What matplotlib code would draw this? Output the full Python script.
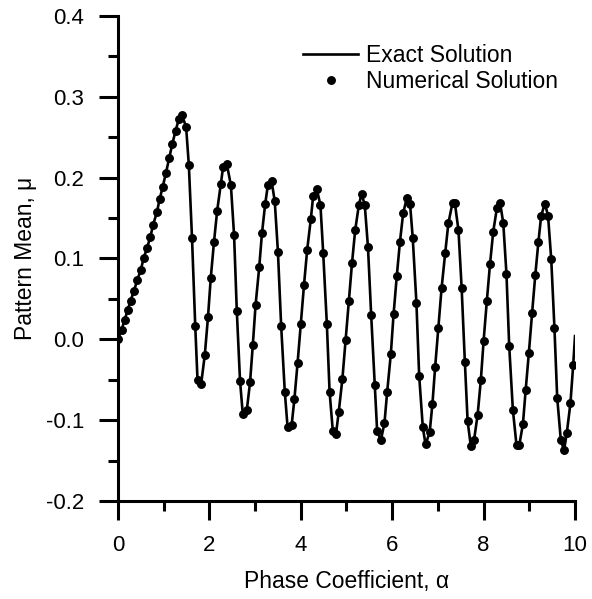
import matplotlib
matplotlib.use("Agg")
import matplotlib.pyplot as plt
import matplotlib.ticker as ticker

plt.rcParams['font.family'] = ['Liberation Sans', 'DejaVu Sans']

# numerical solution
num_alpha = [0.00, 0.08, 0.146, 0.21, 0.277, 0.35, 0.42, 0.50, 0.56, 0.635,
             0.71, 0.77, 0.85, 0.91, 0.98, 1.05, 1.12, 1.19, 1.26, 1.33,
             1.40, 1.49, 1.55, 1.62, 1.69, 1.74, 1.82, 1.90, 1.97, 2.03,
             2.10, 2.17, 2.25, 2.30, 2.38, 2.47, 2.54, 2.60, 2.67, 2.73,
             2.82, 2.89, 2.95, 3.01, 3.09, 3.15, 3.22, 3.28, 3.36, 3.43,
             3.50, 3.57, 3.65, 3.71, 3.80, 3.86, 3.93, 4.00, 4.07, 4.14,
             4.22, 4.27, 4.35, 4.43, 4.49, 4.57, 4.63, 4.70, 4.77, 4.83,
             4.91, 4.98, 5.05, 5.12, 5.19, 5.27, 5.33, 5.40, 5.47, 5.54,
             5.62, 5.67, 5.75, 5.83, 5.89, 5.97, 6.03, 6.10, 6.17, 6.24,
             6.32, 6.39, 6.45, 6.53, 6.59, 6.67, 6.73, 6.82, 6.88, 6.94,
             7.01, 7.08, 7.16, 7.23, 7.32, 7.37, 7.45, 7.52, 7.59, 7.65,
             7.72, 7.79, 7.87, 7.94, 8.00, 8.07, 8.14, 8.21, 8.29, 8.36,
             8.43, 8.50, 8.56, 8.64, 8.72, 8.78, 8.86, 8.92, 8.99, 9.06,
             9.13, 9.20, 9.26, 9.34, 9.41, 9.48, 9.55, 9.61, 9.69, 9.76,
             9.82, 9.90, 9.96]
num_mu = [0.000, 0.012, 0.024, 0.036, 0.048, 0.060, 0.073, 0.086, 0.100, 0.113,
          0.127, 0.142, 0.157, 0.173, 0.189, 0.206, 0.224, 0.242, 0.258, 0.272,
          0.277, 0.263, 0.216, 0.125, 0.017, -0.050, -0.055, -0.019, 0.028, 0.076,
          0.120, 0.159, 0.192, 0.213, 0.217, 0.191, 0.129, 0.035, -0.051, -0.092,
          -0.087, -0.053, -0.007, 0.042, 0.089, 0.131, 0.167, 0.191, 0.196, 0.171,
          0.108, 0.017, -0.065, -0.108, -0.106, -0.074, -0.029, 0.019, 0.067, 0.111,
          0.149, 0.177, 0.186, 0.166, 0.107, 0.019, -0.065, -0.113, -0.117, -0.090,
          -0.049, -0.001, 0.048, 0.094, 0.135, 0.166, 0.180, 0.166, 0.114, 0.030,
          -0.057, -0.113, -0.125, -0.104, -0.065, -0.018, 0.031, 0.078, 0.121, 0.156,
          0.175, 0.168, 0.125, 0.045, -0.045, -0.109, -0.130, -0.115, -0.080, -0.034,
          0.014, 0.063, 0.107, 0.144, 0.169, 0.169, 0.135, 0.063, -0.028, -0.101,
          -0.132, -0.125, -0.093, -0.050, -0.002, 0.047, 0.093, 0.133, 0.162, 0.169,
          0.144, 0.081, -0.008, -0.087, -0.131, -0.131, -0.105, -0.063, -0.017, 0.032,
          0.079, 0.121, 0.153, 0.168, 0.153, 0.099, 0.014, -0.072, -0.125, -0.137,
          -0.116, -0.079, -0.032]

# exact solution follows the same points and runs on to alpha = 10
exact_alpha = num_alpha + [10.0]
exact_mu = num_mu + [0.004]

fig = plt.figure(figsize=(5.92, 5.99), dpi=100)
ax = fig.add_axes([0.1993, 0.1636, 0.772, 0.8097])

ax.plot(exact_alpha, exact_mu, color='black', lw=1.9, label='Exact Solution')
ax.plot(num_alpha, num_mu, ls='none', marker='o', ms=5.4, color='black',
        label='Numerical Solution')

ax.set_xlim(0, 10)
ax.set_ylim(-0.2, 0.4)
ax.xaxis.set_major_locator(ticker.MultipleLocator(2))
ax.xaxis.set_minor_locator(ticker.MultipleLocator(1))
ax.yaxis.set_major_locator(ticker.MultipleLocator(0.1))
ax.yaxis.set_minor_locator(ticker.MultipleLocator(0.05))
ax.xaxis.set_major_formatter(ticker.FormatStrFormatter('%d'))
ax.yaxis.set_major_formatter(ticker.FormatStrFormatter('%.1f'))

ax.spines['top'].set_visible(False)
ax.spines['right'].set_visible(False)
for s in ('left', 'bottom'):
    ax.spines[s].set_linewidth(2.2)
ax.tick_params(which='major', direction='out', length=14, width=2.2,
               labelsize=16, pad=10.5)
ax.tick_params(which='minor', direction='out', length=7, width=2.2)

ax.set_xlabel('Phase Coefficient, α', fontsize=16.5, labelpad=10)
ax.set_ylabel('Pattern Mean, μ', fontsize=16.5, labelpad=6.5)

leg = ax.legend(loc='upper right', bbox_to_anchor=(1.008, 0.985), frameon=False,
                fontsize=16.5, handlelength=2.4, handletextpad=0.35,
                labelspacing=0.12)

fig.savefig('out.png', dpi=100)
